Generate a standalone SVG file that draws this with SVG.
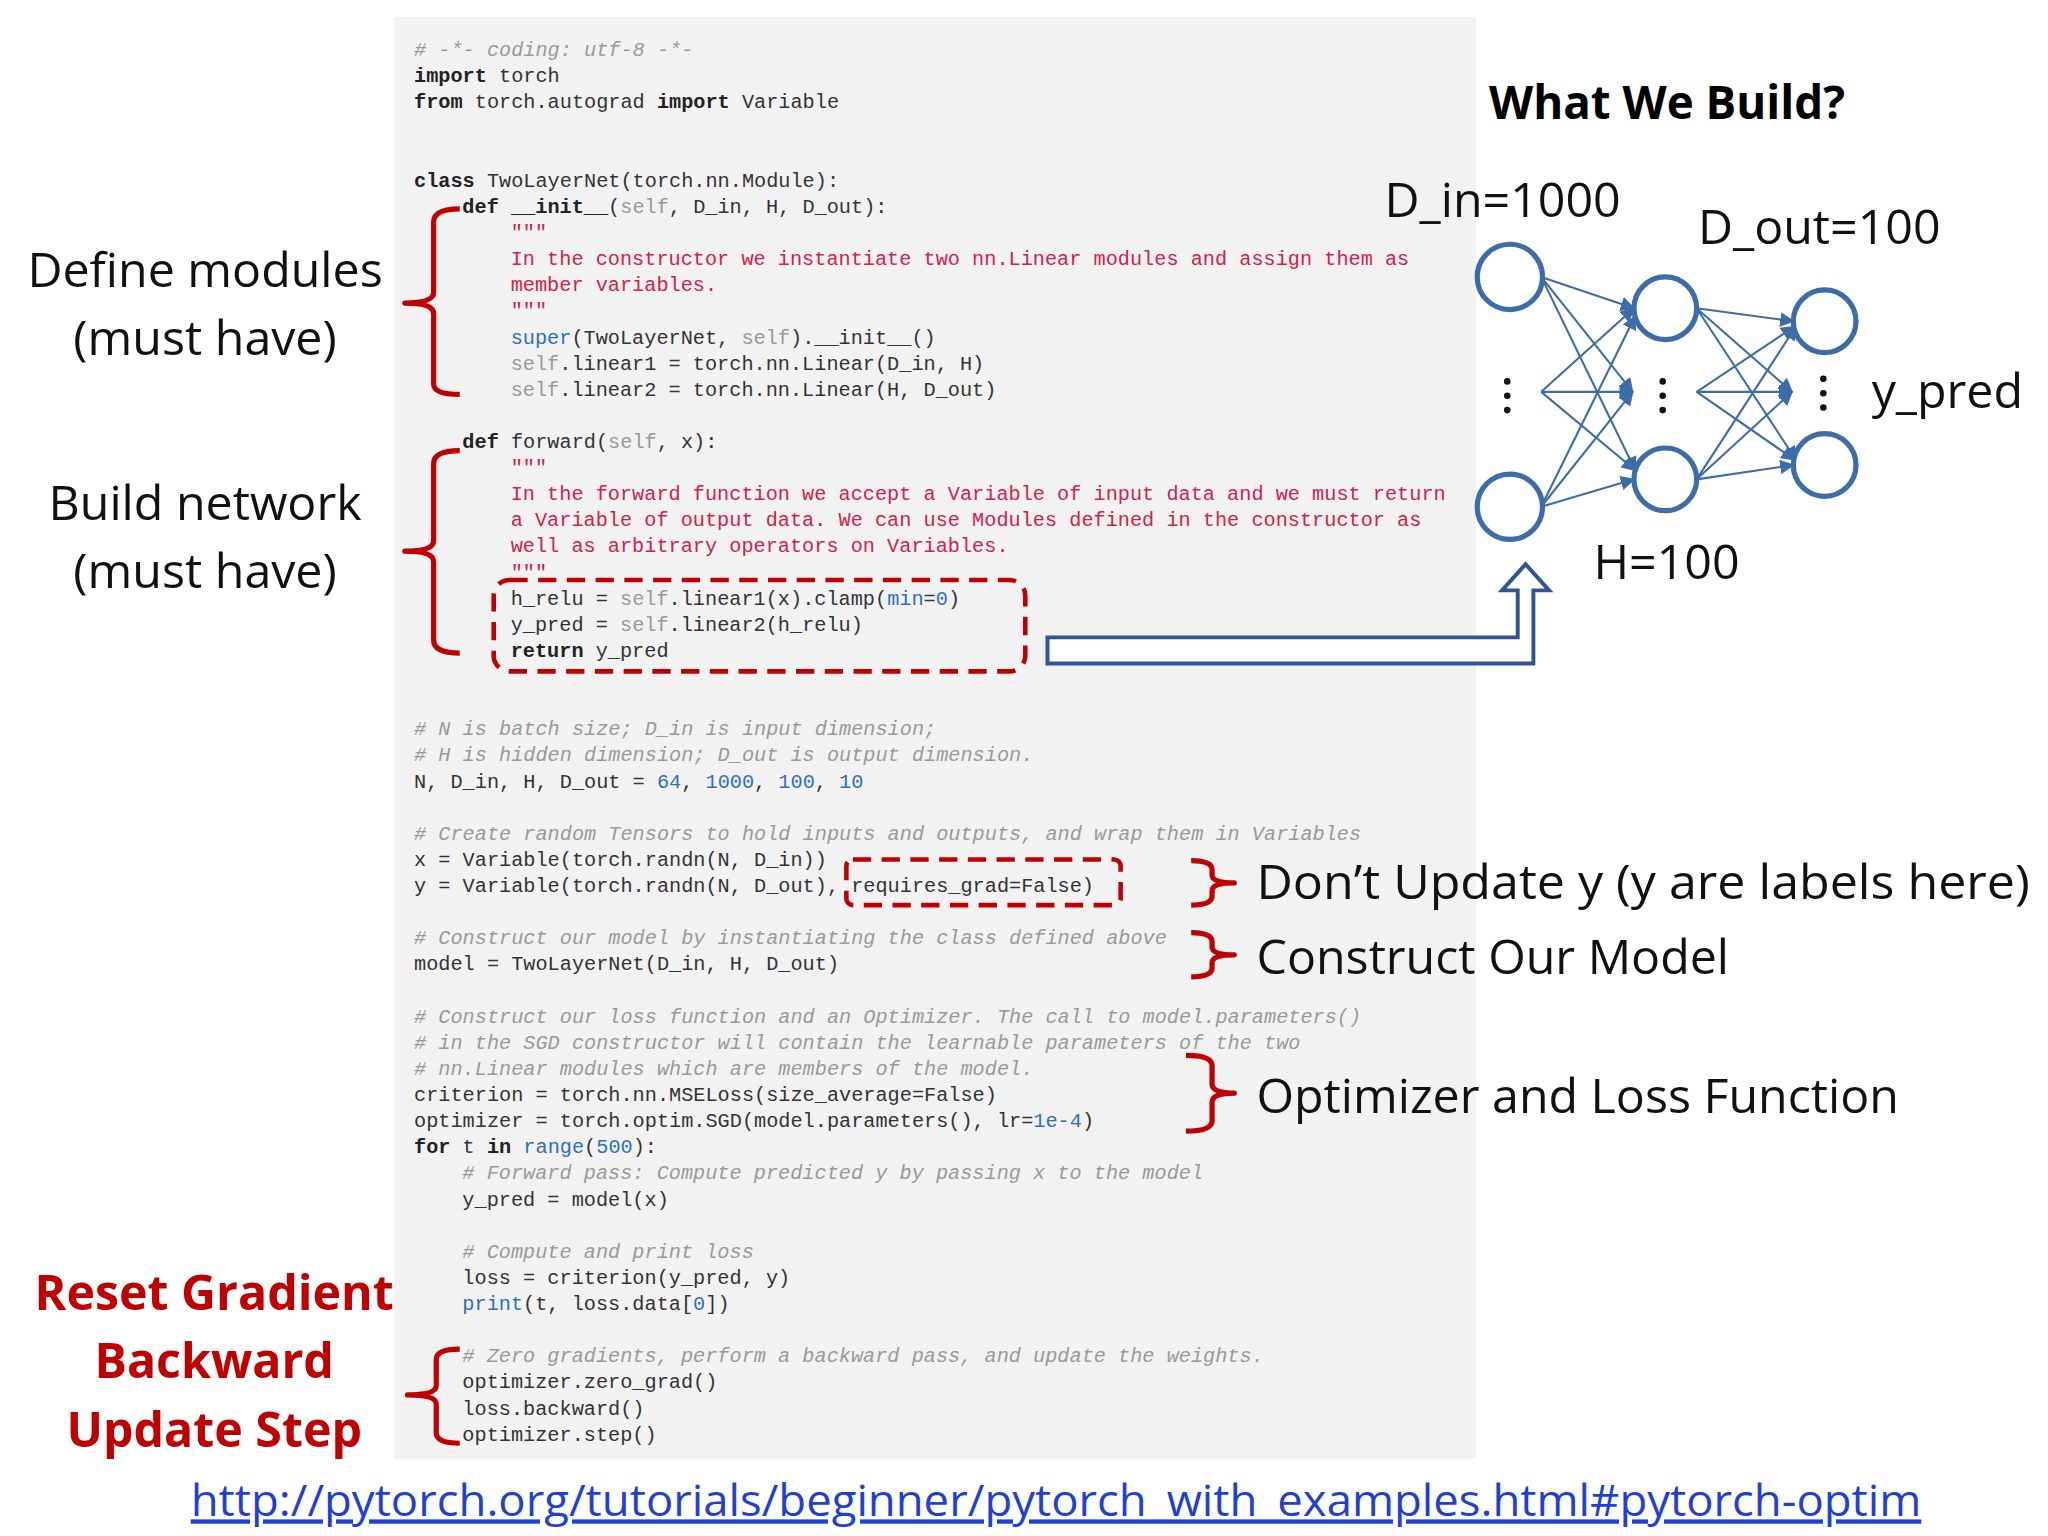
<svg xmlns="http://www.w3.org/2000/svg" width="2048" height="1536" viewBox="0 0 2048 1536">
<style>
.c{font-family:"Liberation Mono",monospace;font-size:15.5px;fill:#333}
.cm{fill:#999;font-style:italic}
.d{fill:#d6204a}
.k{font-weight:bold;fill:#222}
.n{fill:#2c6fc0}
.s{fill:#999}
.lb{font-family:"Open Sans","Liberation Sans",sans-serif;font-size:37px;fill:#111}
.rd{font-family:"Open Sans","Liberation Sans",sans-serif;font-size:37px;fill:#c00000;font-weight:bold;text-anchor:middle}
.br{fill:none;stroke:#c00000;stroke-width:4;stroke-linejoin:round}
.dash{fill:none;stroke:#c00000;stroke-width:3.5;stroke-dasharray:14 8}
.nd{fill:#fff;stroke:#3d6da8;stroke-width:4}
.e{stroke:#3d6da8;stroke-width:1.6;fill:none;marker-end:url(#ah)}
</style>
<defs>
<marker id="ah" viewBox="0 0 10 10" refX="9" refY="5" markerWidth="7" markerHeight="7" orient="auto"><path d="M0,0L10,5L0,10z" fill="#3d6da8"/></marker>
</defs>
<rect width="2048" height="1536" fill="#fff"/>
<g transform="scale(1.30612)">
<rect x="302" y="13" width="828" height="1104" fill="#f2f2f2"/>
<g id="code" class="c">
<text x="317" y="43" class="cm"># -*- coding: utf-8 -*-</text>
<text x="317" y="63"><tspan class="k">import</tspan> torch</text>
<text x="317" y="83"><tspan class="k">from</tspan> torch.autograd <tspan class="k">import</tspan> Variable</text>
<text x="317" y="143"><tspan class="k">class</tspan> TwoLayerNet(torch.nn.Module):</text>
<text x="354" y="163"><tspan class="k">def</tspan> <tspan class="k">__init__</tspan>(<tspan class="s">self</tspan>, D_in, H, D_out):</text>
<text x="391" y="183" class="d">"""</text>
<text x="391" y="203" class="d">In the constructor we instantiate two nn.Linear modules and assign them as</text>
<text x="391" y="223" class="d">member variables.</text>
<text x="391" y="243" class="d">"""</text>
<text x="391" y="263"><tspan class="n">super</tspan>(TwoLayerNet, <tspan class="s">self</tspan>).__init__()</text>
<text x="391" y="283"><tspan class="s">self</tspan>.linear1 = torch.nn.Linear(D_in, H)</text>
<text x="391" y="303"><tspan class="s">self</tspan>.linear2 = torch.nn.Linear(H, D_out)</text>
<text x="354" y="343"><tspan class="k">def</tspan> forward(<tspan class="s">self</tspan>, x):</text>
<text x="391" y="363" class="d">"""</text>
<text x="391" y="383" class="d">In the forward function we accept a Variable of input data and we must return</text>
<text x="391" y="403" class="d">a Variable of output data. We can use Modules defined in the constructor as</text>
<text x="391" y="423" class="d">well as arbitrary operators on Variables.</text>
<text x="391" y="443" class="d">"""</text>
<text x="391" y="463">h_relu = <tspan class="s">self</tspan>.linear1(x).clamp(<tspan class="n">min</tspan>=<tspan class="n">0</tspan>)</text>
<text x="391" y="483">y_pred = <tspan class="s">self</tspan>.linear2(h_relu)</text>
<text x="391" y="503"><tspan class="k">return</tspan> y_pred</text>
<text x="317" y="563" class="cm"># N is batch size; D_in is input dimension;</text>
<text x="317" y="583" class="cm"># H is hidden dimension; D_out is output dimension.</text>
<text x="317" y="603">N, D_in, H, D_out = <tspan class="n">64</tspan>, <tspan class="n">1000</tspan>, <tspan class="n">100</tspan>, <tspan class="n">10</tspan></text>
<text x="317" y="643" class="cm"># Create random Tensors to hold inputs and outputs, and wrap them in Variables</text>
<text x="317" y="663">x = Variable(torch.randn(N, D_in))</text>
<text x="317" y="683">y = Variable(torch.randn(N, D_out), requires_grad=False)</text>
<text x="317" y="723" class="cm"># Construct our model by instantiating the class defined above</text>
<text x="317" y="743">model = TwoLayerNet(D_in, H, D_out)</text>
<text x="317" y="783" class="cm"># Construct our loss function and an Optimizer. The call to model.parameters()</text>
<text x="317" y="803" class="cm"># in the SGD constructor will contain the learnable parameters of the two</text>
<text x="317" y="823" class="cm"># nn.Linear modules which are members of the model.</text>
<text x="317" y="843">criterion = torch.nn.MSELoss(size_average=False)</text>
<text x="317" y="863">optimizer = torch.optim.SGD(model.parameters(), lr=<tspan class="n">1e-4</tspan>)</text>
<text x="317" y="883"><tspan class="k">for</tspan> t <tspan class="k">in</tspan> <tspan class="n">range</tspan>(<tspan class="n">500</tspan>):</text>
<text x="354" y="903" class="cm"># Forward pass: Compute predicted y by passing x to the model</text>
<text x="354" y="923">y_pred = model(x)</text>
<text x="354" y="963" class="cm"># Compute and print loss</text>
<text x="354" y="983">loss = criterion(y_pred, y)</text>
<text x="354" y="1003"><tspan class="n">print</tspan>(t, loss.data[<tspan class="n">0</tspan>])</text>
<text x="354" y="1043" class="cm"># Zero gradients, perform a backward pass, and update the weights.</text>
<text x="354" y="1063">optimizer.zero_grad()</text>
<text x="354" y="1083">loss.backward()</text>
<text x="354" y="1103">optimizer.step()</text>
</g>
<g id="brackets">
<path class="br" d="M352,160 Q332,160 332,170 L332,224 Q332,232 310,232 Q332,232 332,240 L332,294 Q332,302 352,302"/>
<path class="br" d="M352,345 Q332,345 332,355 L332,414 Q332,422 310,422 Q332,422 332,430 L332,490 Q332,500 352,500"/>
<path class="br" d="M352,1033 Q334,1033 334,1041 L334,1061 Q334,1068 312,1068 Q334,1068 334,1075 L334,1097 Q334,1105 352,1105"/>
<path class="br" d="M912,659 Q928,659 928,666 L928,670 Q928,676 945,676 Q928,676 928,682 L928,686 Q928,693 912,693"/>
<path class="br" d="M912,714 Q928,714 928,721 L928,725 Q928,731 945,731 Q928,731 928,737 L928,741 Q928,748 912,748"/>
<path class="br" d="M908,808 Q928,808 928,816 L928,830 Q928,837 945,837 Q928,837 928,844 L928,858 Q928,866 908,866"/>
<rect class="dash" x="378" y="444" width="407" height="70" rx="12"/>
<rect class="dash" x="648" y="658" width="210" height="35" rx="5"/>
</g>
<g id="labels">
<text class="lb" x="157" y="220" text-anchor="middle">Define modules</text>
<text class="lb" x="157" y="272" text-anchor="middle">(must have)</text>
<text class="lb" x="157" y="398" text-anchor="middle">Build network</text>
<text class="lb" x="157" y="450" text-anchor="middle">(must have)</text>
<text class="rd" x="164" y="1003">Reset Gradient</text>
<text class="rd" x="164" y="1055">Backward</text>
<text class="rd" x="164" y="1108">Update Step</text>
<text class="lb" x="962" y="688" textLength="592" lengthAdjust="spacingAndGlyphs">Don’t Update y (y are labels here)</text>
<text class="lb" x="962" y="746">Construct Our Model</text>
<text class="lb" x="962" y="852">Optimizer and Loss Function</text>
<text x="1140" y="91" font-family="Open Sans,Liberation Sans,sans-serif" font-size="35" font-weight="bold" fill="#000">What We Build?</text>
<text class="lb" x="1060" y="166">D_in=1000</text>
<text class="lb" x="1300" y="187">D_out=100</text>
<text class="lb" x="1433" y="312">y_pred</text>
<text class="lb" x="1220" y="443">H=100</text>
<text x="146" y="1161" font-family="Open Sans,Liberation Sans,sans-serif" font-size="33" fill="#1f3fd6" text-decoration="underline" textLength="1325" lengthAdjust="spacingAndGlyphs">http://pytorch.org/tutorials/beginner/pytorch_with_examples.html#pytorch-optim</text>
</g>
<g id="connectors">
<path class="e" d="M1180,212 L1251,236"/><path class="e" d="M1180,212 L1250,300"/><path class="e" d="M1180,212 L1252,360"/>
<path class="e" d="M1180,300 L1251,236"/><path class="e" d="M1180,300 L1250,300"/><path class="e" d="M1180,300 L1252,360"/>
<path class="e" d="M1180,388 L1252,242"/><path class="e" d="M1180,388 L1250,300"/><path class="e" d="M1180,388 L1251,367"/>
<path class="e" d="M1299,236 L1373,246"/><path class="e" d="M1299,236 L1372,300"/><path class="e" d="M1299,236 L1375,352"/>
<path class="e" d="M1299,300 L1374,250"/><path class="e" d="M1299,300 L1372,300"/><path class="e" d="M1299,300 L1374,352"/>
<path class="e" d="M1299,367 L1375,250"/><path class="e" d="M1299,367 L1372,300"/><path class="e" d="M1299,367 L1373,356"/>
<path d="M802,488 L1162,488 L1162,452 L1150,452 L1168,432 L1186,452 L1174,452 L1174,508 L802,508 Z" fill="#fff" stroke="#2f5597" stroke-width="3"/>
</g>
<g id="nodes">
<g id="in1"><circle class="nd" cx="1156" cy="212" r="25"/></g>
<g id="in2"><circle class="nd" cx="1156" cy="388" r="25"/></g>
<g id="h1"><circle class="nd" cx="1275" cy="236" r="24"/></g>
<g id="h2"><circle class="nd" cx="1275" cy="367" r="24"/></g>
<g id="o1"><circle class="nd" cx="1397" cy="246" r="24"/></g>
<g id="o2"><circle class="nd" cx="1397" cy="356" r="24"/></g>
<g fill="#111"><circle cx="1154" cy="292" r="2.5"/><circle cx="1154" cy="303" r="2.5"/><circle cx="1154" cy="314" r="2.5"/>
<circle cx="1273" cy="292" r="2.5"/><circle cx="1273" cy="303" r="2.5"/><circle cx="1273" cy="314" r="2.5"/>
<circle cx="1396" cy="290" r="2.5"/><circle cx="1396" cy="301" r="2.5"/><circle cx="1396" cy="312" r="2.5"/></g>
</g>
</g>
</svg>
